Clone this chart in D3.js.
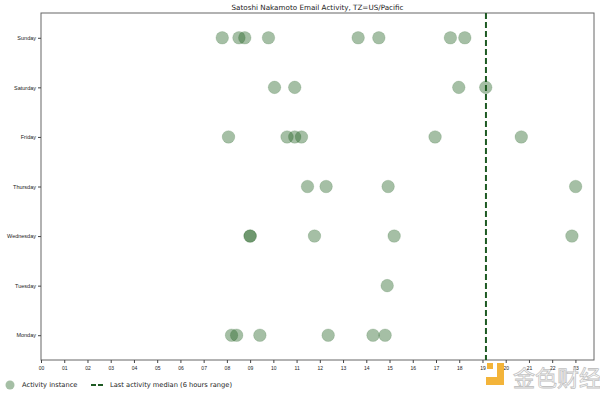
<script src="https://d3js.org/d3.v7.min.js"></script>
<body style="margin:0">
<script>
    // Day categories (bottom to top) and hour of each email, per day
    var days = ["Monday", "Tuesday", "Wednesday", "Thursday", "Friday", "Saturday", "Sunday"];
    var mondayHours = [8.20, 8.42, 9.42, 12.36, 14.29, 14.81];
    var tuesdayHours = [14.90];
    var wednesdayHours = [9.0, 9.0, 11.77, 15.20, 22.85];
    var thursdayHours = [11.47, 12.27, 14.94, 23.01];
    var fridayHours = [8.07, 10.59, 10.92, 11.21, 16.96, 20.67];
    var saturdayHours = [10.05, 10.92, 17.98, 19.14];
    var sundayHours = [7.80, 8.52, 8.77, 9.79, 13.65, 14.54, 17.62, 18.24];
    var hourTicks = ["00","01","02","03","04","05","06","07","08","09","10","11",
                     "12","13","14","15","16","17","18","19","20","21","22","23"];
    var medianHour = 19.15;

    var byDay = [mondayHours, tuesdayHours, wednesdayHours, thursdayHours,
                 fridayHours, saturdayHours, sundayHours];
    var points = [];
    byDay.forEach(function(hours, i) {
        hours.forEach(function(h) { points.push({day: days[i], hour: h}); });
    });

    var W = 600, H = 393;
    var plot = {left: 41, right: 594, top: 13, bottom: 360};

    var svg = d3.select("body").append("svg")
        .attr("width", W).attr("height", H)
        .style("background", "white")
        .style("font-family", "DejaVu Sans, sans-serif");

    var x = d3.scaleLinear().domain([0, 23.8]).range([plot.left, plot.right]);
    var y = d3.scalePoint().domain(days).range([plot.bottom, plot.top]).padding(0.5);

    // Frame
    svg.append("rect")
        .attr("x", plot.left).attr("y", plot.top)
        .attr("width", plot.right - plot.left).attr("height", plot.bottom - plot.top)
        .attr("fill", "none").attr("stroke", "#666").attr("stroke-width", 1);

    // Axes
    var xAxis = svg.append("g")
        .attr("transform", "translate(0," + plot.bottom + ")")
        .call(d3.axisBottom(x)
            .tickValues(d3.range(hourTicks.length))
            .tickFormat(function(d) { return hourTicks[d]; })
            .tickSize(3).tickPadding(3));
    xAxis.select(".domain").remove();
    xAxis.selectAll("text").style("font-size", "5px").attr("fill", "#222");
    xAxis.selectAll("line").attr("stroke", "#444");

    var yAxis = svg.append("g")
        .attr("transform", "translate(" + plot.left + ",0)")
        .call(d3.axisLeft(y).tickSize(3).tickPadding(2));
    yAxis.select(".domain").remove();
    yAxis.selectAll("text").style("font-size", "5.5px").attr("fill", "#222");
    yAxis.selectAll("line").attr("stroke", "#444");

    // Title
    svg.append("text")
        .attr("x", (plot.left + plot.right) / 2).attr("y", 10)
        .attr("text-anchor", "middle")
        .style("font-size", "7.2px").attr("fill", "#222")
        .text("Satoshi Nakamoto Email Activity, TZ=US/Pacific");

    // Median line
    svg.append("line")
        .attr("x1", x(medianHour)).attr("x2", x(medianHour))
        .attr("y1", plot.top).attr("y2", plot.bottom)
        .attr("stroke", "#1e5a23").attr("stroke-width", 2)
        .attr("stroke-dasharray", "6,3");

    // Points
    svg.selectAll("circle.dot")
        .data(points)
        .enter().append("circle")
        .attr("class", "dot")
        .attr("cx", function(d) { return x(d.hour); })
        .attr("cy", function(d) { return y(d.day); })
        .attr("r", 6.3)
        .attr("fill", "#1f5f1f").attr("fill-opacity", 0.4)
        .attr("stroke", "#1f5f1f").attr("stroke-opacity", 0.25).attr("stroke-width", 0.6);

    // Legend
    var lg = svg.append("g").attr("transform", "translate(0,385)");
    lg.append("circle").attr("cx", 10).attr("cy", 0).attr("r", 4.5)
        .attr("fill", "#1f5f1f").attr("fill-opacity", 0.4);
    lg.append("text").attr("x", 22).attr("y", 2.3).style("font-size", "6.7px").attr("fill", "#222")
        .text("Activity instance");
    lg.append("line").attr("x1", 91).attr("x2", 104).attr("y1", 0).attr("y2", 0)
        .attr("stroke", "#1e5a23").attr("stroke-width", 2).attr("stroke-dasharray", "5,2");
    lg.append("text").attr("x", 110).attr("y", 2.3).style("font-size", "6.7px").attr("fill", "#222")
        .text("Last activity median (6 hours range)");

    // Watermark
    var wm = svg.append("g").attr("opacity", 0.85);
    wm.append("path")
        .attr("d", "M497,363 h7 v22 h-18 v-8 h11 z")
        .attr("fill", "#f2a818");
    wm.append("rect").attr("x", 487).attr("y", 363).attr("width", 6).attr("height", 6)
        .attr("fill", "#f2a818");
    wm.append("text").attr("x", 513).attr("y", 386)
        .style("font-family", "Noto Sans CJK SC").style("font-size", "22px")
        .attr("fill", "white").attr("stroke", "#b8b8b8").attr("stroke-width", 0.8)
        .text("金色财经");
</script>
</body>
